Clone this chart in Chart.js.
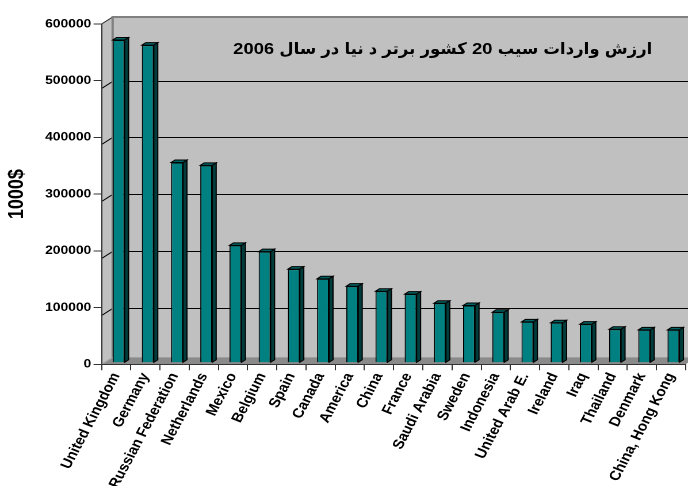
<!DOCTYPE html>
<html>
<head>
<meta charset="utf-8">
<title>Imports chart</title>
<script src="https://cdn.jsdelivr.net/npm/chart.js@4/dist/chart.umd.min.js"></script>
<style>
    html, body { margin: 0; padding: 0; background: #fff; overflow: hidden; }
    /* the old spreadsheet chart is stretched a little wider than it was drawn */
    #wrap { width: 598px; height: 486px; transform: scaleX(1.1505); transform-origin: 0 0; }
</style>
</head>
<body>
<div id="wrap"><canvas id="importsChart" width="598" height="486"></canvas></div>
<script>
// Data
const countries = ['United Kingdom', 'Germany', 'Russian Federation', 'Netherlands', 'Mexico',
    'Belgium', 'Spain', 'Canada', 'America', 'China', 'France', 'Saudi Arabia', 'Sweden',
    'Indonesia', 'United Arab E.', 'Ireland', 'Iraq', 'Thailand', 'Denmark', 'China, Hong Kong'];
const imports = [569000, 560000, 353000, 348000, 207000, 196000, 165000, 148000, 135000, 126000,
    121000, 105000, 101000, 89000, 72000, 70500, 68000, 59000, 58000, 58000];
const yTicks = [0, 100000, 200000, 300000, 400000, 500000, 600000];
const chartTitle = 'ارزش واردات سیب 20 کشور برتر د نیا در سال 2006';
const axisTitle = '1000$';

// 3D look: back wall offset and how deep the bars sit
const DEPTH_X = 9.6;
const DEPTH_Y = -7;
const BAR_FRONT = 0.22;
const BAR_BACK = 0.58;

const FONT = 'Liberation Sans, Arial, DejaVu Sans, sans-serif';
const TITLE_FONT = 'bold 16px "Liberation Sans", "DejaVu Sans Condensed", "DejaVu Sans", sans-serif';

function poly(ctx, pts, fill, stroke, lw) {
    ctx.beginPath();
    ctx.moveTo(pts[0][0], pts[0][1]);
    for (let i = 1; i < pts.length; i++) ctx.lineTo(pts[i][0], pts[i][1]);
    ctx.closePath();
    if (fill) { ctx.fillStyle = fill; ctx.fill(); }
    if (stroke) { ctx.strokeStyle = stroke; ctx.lineWidth = lw || 1; ctx.stroke(); }
}

function line(ctx, pts, color, lw) {
    ctx.beginPath();
    ctx.moveTo(pts[0][0], pts[0][1]);
    for (let i = 1; i < pts.length; i++) ctx.lineTo(pts[i][0], pts[i][1]);
    ctx.strokeStyle = color;
    ctx.lineWidth = lw || 1;
    ctx.stroke();
}

// Walls, floor and gridlines behind the bars
const walls = {
    id: 'walls',
    beforeDraw(chart) {
        const { ctx, chartArea: a, scales: { y } } = chart;
        const dx = DEPTH_X, dy = DEPTH_Y;
        ctx.save();
        ctx.fillStyle = '#fff';
        ctx.fillRect(0, 0, chart.width, chart.height);

        // back wall
        poly(ctx, [[a.left + dx, a.top + dy], [a.right + dx, a.top + dy],
            [a.right + dx, a.bottom + dy], [a.left + dx, a.bottom + dy]], '#c0c0c0');
        // left wall
        poly(ctx, [[a.left, a.top], [a.left + dx, a.top + dy],
            [a.left + dx, a.bottom + dy], [a.left, a.bottom]], '#c0c0c0');
        // floor
        poly(ctx, [[a.left, a.bottom], [a.right, a.bottom],
            [a.right + dx, a.bottom + dy], [a.left + dx, a.bottom + dy]], '#8a8a8a');
        line(ctx, [[a.left, a.bottom], [a.left + dx, a.bottom + dy]], '#a8a8a8', 1);

        // gridlines run across the left wall and the back wall
        yTicks.forEach(v => {
            if (v === 0 || v === yTicks[yTicks.length - 1]) return;
            const py = Math.round(y.getPixelForValue(v)) + 0.5;
            line(ctx, [[a.left, py - dy], [a.left + dx, py], [a.right + dx + 20, py]], '#000', 1);
        });

        // wall edges
        const topY = Math.round(y.getPixelForValue(yTicks[yTicks.length - 1]));
        line(ctx, [[a.left, topY], [a.left + dx, topY + dy]], '#333', 1);
        line(ctx, [[a.left + dx, a.bottom + dy], [a.left + dx, topY + dy], [a.right + dx + 20, topY + dy]], '#808080', 2);
        ctx.restore();
    },
    afterDraw(chart) {
        const { ctx, chartArea: a } = chart;
        ctx.save();
        ctx.font = TITLE_FONT;
        ctx.fillStyle = '#000';
        ctx.direction = 'rtl';
        ctx.textAlign = 'right';
        ctx.textBaseline = 'alphabetic';
        ctx.fillText(chartTitle, a.right - 29, a.top + 30);
        ctx.restore();
    }
};

// Bars get a top and a right side so they read as columns
const columns = {
    id: 'columns',
    beforeDatasetsDraw(chart) {
        chart.ctx.save();
        chart.ctx.translate(DEPTH_X * BAR_FRONT, DEPTH_Y * BAR_FRONT);
    },
    afterDatasetsDraw(chart) {
        const ctx = chart.ctx;
        const bx = DEPTH_X * (BAR_BACK - BAR_FRONT);
        const by = DEPTH_Y * (BAR_BACK - BAR_FRONT);
        chart.getDatasetMeta(0).data.forEach(bar => {
            const { x, y, width, base } = bar.getProps(['x', 'y', 'width', 'base'], true);
            const l = x - width / 2, r = x + width / 2;
            poly(ctx, [[l, y], [r, y], [r + bx, y + by], [l + bx, y + by]], '#006262', '#000', 1);
            poly(ctx, [[r, y], [r + bx, y + by], [r + bx, base + by], [r, base]], '#003c3c', '#000', 1);
        });
        ctx.restore();
    }
};

new Chart(document.getElementById('importsChart'), {
    type: 'bar',
    data: {
        labels: countries,
        datasets: [{
            data: imports,
            backgroundColor: '#008080',
            borderColor: '#000',
            borderWidth: 1,
            categoryPercentage: 1,
            barPercentage: 0.41,
            clip: false
        }]
    },
    options: {
        responsive: false,
        devicePixelRatio: 2,
        animation: false,
        layout: { padding: { top: 24, right: 2, bottom: 0, left: 0 } },
        plugins: {
            legend: { display: false },
            tooltip: { enabled: false }
        },
        scales: {
            x: {
                grid: { offset: true, drawOnChartArea: false, drawTicks: true, tickLength: 6, color: '#333' },
                border: { display: true, color: '#333', width: 1 },
                ticks: {
                    autoSkip: false,
                    minRotation: 65,
                    maxRotation: 65,
                    padding: 0,
                    color: '#000',
                    font: { family: FONT, size: 13.5, weight: 'bold' }
                },
                afterFit(scale) { scale.height = 121.7; }
            },
            y: {
                min: 0,
                max: 600000,
                afterBuildTicks(scale) { scale.ticks = yTicks.map(v => ({ value: v })); },
                grid: { drawOnChartArea: false, drawTicks: true, tickLength: 7, color: '#333' },
                border: { display: true, color: '#333', width: 1 },
                ticks: {
                    padding: 2,
                    color: '#000',
                    font: { family: FONT, size: 12, weight: 'bold' },
                    callback: v => String(v)
                },
                title: {
                    display: true,
                    text: axisTitle,
                    color: '#000',
                    padding: { top: 4, bottom: 0 },
                    font: { family: FONT, size: 18, weight: 'bold' }
                },
                afterFit(scale) { scale.width = 88.3; }
            }
        }
    },
    plugins: [walls, columns]
});
</script>
</body>
</html>
